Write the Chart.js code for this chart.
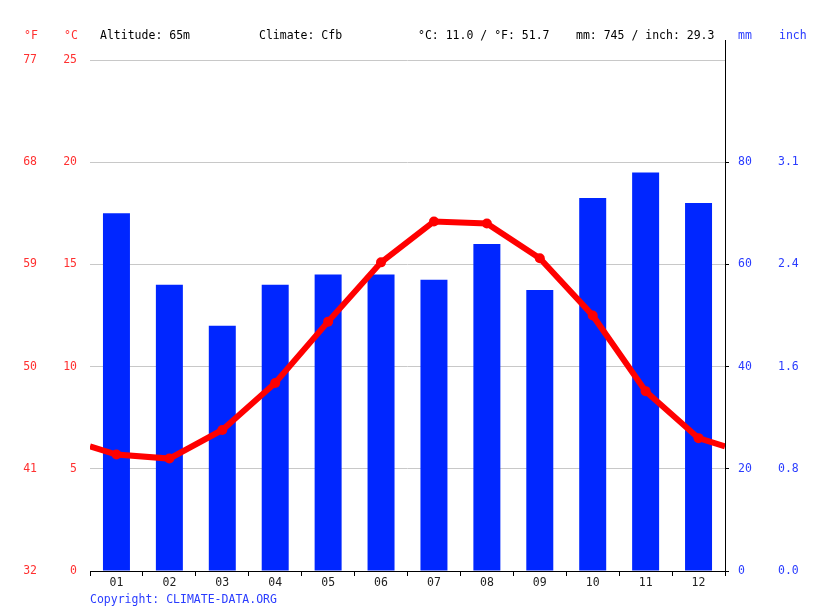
<!DOCTYPE html>
<html>
<head>
<meta charset="utf-8">
<script src="https://cdn.jsdelivr.net/npm/chart.js@4.4.1/dist/chart.umd.min.js"></script>
<style>
    html, body { margin: 0; padding: 0; background: #fff; }
    #wrap { width: 815px; height: 611px; position: relative; }
</style>
</head>
<body>
<div id="wrap"><canvas id="climate-chart" width="815" height="611"></canvas></div>
<script>
// Monthly climate data
const months = ['01', '02', '03', '04', '05', '06', '07', '08', '09', '10', '11', '12'];
const precipMm = [70, 56, 48, 56, 58, 58, 57, 64, 55, 73, 78, 72];
const tempC = [5.7, 5.5, 6.9, 9.2, 12.2, 15.1, 17.1, 17.0, 15.3, 12.5, 8.8, 6.5];
const tempTicksC = [0, 5, 10, 15, 20, 25];
const precipTicksMm = [0, 20, 40, 60, 80];

const FONT = '"DejaVu Sans Mono", "Liberation Mono", monospace';
const FONT_SIZE = 11.5;
const RED = '#ff0000';
const BLUE = '#0026ff';
const LABEL_RED = '#ff3030';
const LABEL_BLUE = '#2a3cff';

// The temperature line wraps around the year: edges use the Dec/Jan mean
const wrapTemp = (tempC[0] + tempC[11]) / 2;
const linePoints = [{ x: 0.5, y: wrapTemp }]
    .concat(tempC.map((t, i) => ({ x: i + 1, y: t })))
    .concat([{ x: 12.5, y: wrapTemp }]);

const fixedWidth = (w) => (scale) => { scale.width = w; };

// Header texts, right axis extension and copyright line
const decorations = {
    id: 'decorations',
    afterDraw(chart) {
        const ctx = chart.ctx;
        const area = chart.chartArea;
        ctx.save();
        ctx.strokeStyle = '#000';
        ctx.lineWidth = 1;
        ctx.beginPath();
        ctx.moveTo(area.right + 0.5, 40);
        ctx.lineTo(area.right + 0.5, area.top);
        ctx.stroke();

        ctx.font = FONT_SIZE + 'px ' + FONT;
        ctx.textBaseline = 'middle';
        ctx.textAlign = 'left';
        ctx.fillStyle = LABEL_RED;
        ctx.fillText('°F', 24, 36);
        ctx.fillText('°C', 64, 36);
        ctx.fillStyle = '#000';
        ctx.fillText('Altitude: 65m', 100, 36);
        ctx.fillText('Climate: Cfb', 259, 36);
        ctx.fillText('°C: 11.0 / °F: 51.7', 418, 36);
        ctx.fillText('mm: 745 / inch: 29.3', 576, 36);
        ctx.fillStyle = LABEL_BLUE;
        ctx.fillText('mm', 738, 36);
        ctx.fillText('inch', 779, 36);
        ctx.fillText('Copyright: CLIMATE-DATA.ORG', 90, 600);
        ctx.restore();
    }
};

const chart = new Chart(document.getElementById('climate-chart'), {
    data: {
        labels: months,
        datasets: [
            {
                type: 'line',
                label: 'Temperature',
                data: linePoints,
                xAxisID: 'xLine',
                yAxisID: 'yC',
                borderColor: RED,
                backgroundColor: RED,
                borderWidth: 6,
                pointRadius: linePoints.map(p => (Number.isInteger(p.x) ? 5 : 0)),
                pointBorderWidth: 0,
                tension: 0,
                order: 0
            },
            {
                type: 'bar',
                label: 'Precipitation',
                data: precipMm,
                xAxisID: 'x',
                yAxisID: 'yMM',
                backgroundColor: BLUE,
                borderWidth: 0,
                grouped: false,
                barPercentage: 0.51,
                categoryPercentage: 1,
                order: 1
            }
        ]
    },
    options: {
        responsive: false,
        animation: false,
        layout: { padding: { top: 60, bottom: 0, left: 0, right: 0 } },
        plugins: {
            legend: { display: false },
            tooltip: { enabled: false }
        },
        scales: {
            x: {
                type: 'category',
                offset: true,
                grid: {
                    offset: true,
                    drawOnChartArea: false,
                    drawTicks: true,
                    tickLength: 5,
                    color: '#000'
                },
                border: { color: '#000' },
                ticks: {
                    color: '#222',
                    font: { family: FONT, size: FONT_SIZE },
                    padding: 0,
                    maxRotation: 0
                },
                afterFit: (scale) => { scale.height = 40; }
            },
            xLine: {
                type: 'linear',
                display: false,
                min: 0.5,
                max: 12.5
            },
            yF: {
                position: 'left',
                weight: 2,
                min: 0,
                max: 25,
                afterBuildTicks: (scale) => { scale.ticks = tempTicksC.map(v => ({ value: v })); },
                grid: { display: false },
                border: { display: false },
                ticks: {
                    color: LABEL_RED,
                    font: { family: FONT, size: FONT_SIZE },
                    padding: 0,
                    callback: (v) => Math.round(v * 9 / 5 + 32)
                },
                afterFit: fixedWidth(45)
            },
            yC: {
                position: 'left',
                weight: 1,
                min: 0,
                max: 25,
                afterBuildTicks: (scale) => { scale.ticks = tempTicksC.map(v => ({ value: v })); },
                grid: { color: '#c8c8c8', drawTicks: false },
                border: { display: false },
                ticks: {
                    color: LABEL_RED,
                    font: { family: FONT, size: FONT_SIZE },
                    padding: 13
                },
                afterFit: fixedWidth(45)
            },
            yMM: {
                position: 'right',
                weight: 1,
                min: 0,
                max: 100,
                afterBuildTicks: (scale) => { scale.ticks = precipTicksMm.map(v => ({ value: v })); },
                grid: { drawOnChartArea: false, drawTicks: true, tickLength: 4, color: '#000' },
                border: { color: '#000' },
                ticks: {
                    color: LABEL_BLUE,
                    font: { family: FONT, size: FONT_SIZE },
                    padding: 9
                },
                afterFit: fixedWidth(40)
            },
            yIn: {
                position: 'right',
                weight: 2,
                min: 0,
                max: 100,
                afterBuildTicks: (scale) => { scale.ticks = precipTicksMm.map(v => ({ value: v })); },
                grid: { display: false },
                border: { display: false },
                ticks: {
                    color: LABEL_BLUE,
                    font: { family: FONT, size: FONT_SIZE },
                    padding: 5,
                    callback: (v) => (v / 25.4).toFixed(1)
                },
                afterFit: fixedWidth(50)
            }
        }
    },
    plugins: [decorations]
});
</script>
</body>
</html>
